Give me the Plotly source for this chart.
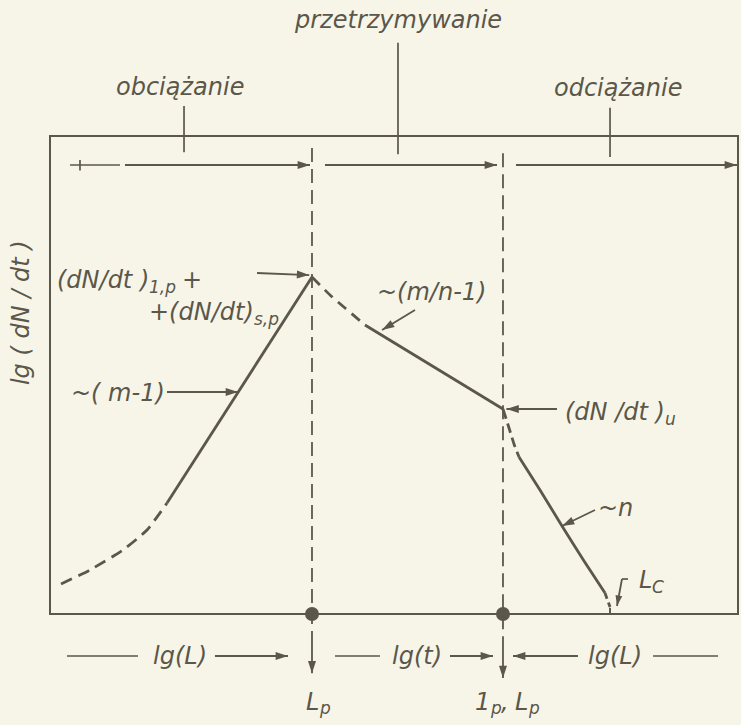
import math
import plotly.graph_objects as go

# ---- schematic curve values: x = lg of load / time axis, y = lg(dN/dt) (frame spans 0..100) ----
load_dash_x = [1.60, 5.81, 10.61, 14.10, 17.01]
load_dash_y = [6.28, 9.21, 13.39, 17.57, 23.22]
load_solid_x = [17.01, 38.08]
load_solid_y = [23.22, 70.50]

hold_dash_x = [38.08, 40.70, 42.88, 45.78]
hold_dash_y = [70.50, 66.74, 64.02, 60.46]
hold_solid_x = [45.78, 65.84]
hold_solid_y = [60.46, 42.89]

unload_dash_x = [65.84, 66.72, 67.44, 68.17]
unload_dash_y = [42.89, 38.91, 35.56, 32.85]
unload_solid_x = [68.17, 71.22, 74.42, 77.62, 80.67]
unload_solid_y = [32.85, 25.94, 18.41, 11.09, 4.39]
unload_tail_x = [80.67, 81.40]
unload_tail_y = [4.39, 1.46]

# phase boundaries on the horizontal axis
L_P = 38.08      # end of loading
T_P = 65.84      # end of hold
L_C = 81.40      # closing load

phase_labels = ["obciążanie", "przetrzymywanie", "odciążanie"]

INK = "#5b574a"
PAPER = "#f7f5e8"
FONT = "DejaVu Sans"
FS = 24
SUB_FS = 17

W, H = 741, 725
X_RANGE = [-7.267, 100.436]
Y_RANGE = [-23.22, 128.45]
SX = W / (X_RANGE[1] - X_RANGE[0])   # pixels per x unit
SY = H / (Y_RANGE[1] - Y_RANGE[0])   # pixels per y unit

# DejaVu Sans advance widths (font units, 2048 per em) for the glyphs used in mixed labels
ADV = {" ": 651, "(": 799, ")": 799, "/": 690, "+": 1716, ",": 651, "-": 739,
       "1": 1303, "d": 1300, "p": 1300, "u": 1298, "t": 803, "s": 1067,
       "N": 1532, "L": 1141, "C": 1430}


def text_px(s, size):
    return sum(ADV.get(ch, 1200) for ch in s) * size / 2048.0


fig = go.Figure()


def curve(xs, ys, dash="solid", spline=True):
    fig.add_trace(go.Scatter(
        x=xs, y=ys, mode="lines",
        line=dict(color=INK, width=2.8, dash=dash,
                  shape="spline" if spline else "linear", smoothing=0.5),
        hoverinfo="skip", showlegend=False))


curve(load_dash_x, load_dash_y, dash="12px,7px")
curve(load_solid_x, load_solid_y, spline=False)
curve(hold_dash_x, hold_dash_y, dash="11px,7px")
curve(hold_solid_x, hold_solid_y, spline=False)
curve(unload_dash_x, unload_dash_y, dash="10px,5px")
curve(unload_solid_x, unload_solid_y)
curve(unload_tail_x, unload_tail_y, dash="6px,4px", spline=False)

# dots where the phase boundaries meet the axis
fig.add_trace(go.Scatter(
    x=[L_P, T_P], y=[0, 0], mode="markers",
    marker=dict(color=INK, size=14), hoverinfo="skip", showlegend=False))


def arrow(x0, y0, x1, y1, head=13):
    """Straight pointer from (x0, y0) with a filled head at (x1, y1)."""
    fig.add_trace(go.Scatter(
        x=[x0, x1], y=[y0, y1], mode="lines",
        line=dict(color=INK, width=1.8),
        hoverinfo="skip", showlegend=False))
    ang = math.degrees(math.atan2((x1 - x0) * SX, (y1 - y0) * SY))
    fig.add_trace(go.Scatter(
        x=[x1], y=[y1], mode="markers",
        marker=dict(symbol="arrow", size=head, color=INK, angle=ang,
                    line=dict(width=0)),
        hoverinfo="skip", showlegend=False))


shapes = []


def seg(x0, y0, x1, y1, width=1.7, dash="solid"):
    shapes.append(dict(type="line", xref="x", yref="y", x0=x0, y0=y0, x1=x1, y1=y1,
                       line=dict(color=INK, width=width, dash=dash)))


# frame
shapes.append(dict(type="rect", xref="x", yref="y", x0=0, y0=0, x1=100, y1=100,
                   line=dict(color=INK, width=2), layer="below"))

# dashed phase boundaries
for xb, ytop in [(L_P, 97.5), (T_P, 96.4)]:
    seg(xb, ytop, xb, -6.5, width=1.8, dash="14px,7px")

# ticks from the phase labels down into the frame
seg(19.48, 106.3, 19.48, 96.6)
seg(50.58, 119.5, 50.58, 96.2)
seg(81.40, 105.9, 81.40, 95.6)

# start tick and gap of the loading span arrow
seg(2.91, 93.93, 10.17, 93.93)
seg(4.36, 92.8, 4.36, 95.0)

# bottom row lines
seg(2.47, -8.79, 12.79, -8.79)
seg(41.42, -8.79, 47.97, -8.79)
seg(87.65, -8.79, 97.09, -8.79)

# L_C tick and hook
seg(L_C, 0, L_C, 1.3, width=2)
seg(83.14, 7.32, 84.01, 7.32)

annotations = []


def label(x, y, text, size=FS, xanchor="center", angle=0):
    annotations.append(dict(
        x=x, y=y, xref="x", yref="y", text=text, showarrow=False,
        xanchor=xanchor, yanchor="middle", textangle=angle,
        font=dict(family=FONT, size=size, color=INK, style="italic")))


def rich(x, y, parts, xanchor="left", drop=7.0):
    """Label made of (text, is_subscript, gap_after_px) pieces laid out left to right."""
    widths = [text_px(t, SUB_FS if sub else FS) + gap for t, sub, gap in parts]
    total = sum(widths)
    start = x * SX
    if xanchor == "center":
        start -= total / 2
    elif xanchor == "right":
        start -= total
    px = start
    for (t, sub, gap), w in zip(parts, widths):
        yy = y - (drop / SY if sub else 0.0)
        label(px / SX, yy, t, size=SUB_FS if sub else FS, xanchor="left")
        px += w


# span arrows across the top of the frame
arrow(10.90, 93.93, 37.79, 93.93)
arrow(39.97, 93.93, 64.97, 93.93)
arrow(67.73, 93.93, 99.85, 93.93)

# phase names
label(18.90, 110.25, phase_labels[0])
label(50.58, 124.27, phase_labels[1])
label(82.56, 110.04, phase_labels[2])

# y axis title
label(-4.2, 62.97, "lg ( dN / dt )", angle=-90)

# peak rate
rich(0.73, 69.87, [("(dN/dt )", False, 0), ("1,p", True, 6), ("+", False, 0)])
rich(33.0, 63.18, [("+(dN/dt)", False, 0), ("s,p", True, 0)], xanchor="right")
arrow(30.09, 71.34, L_P - 0.4, 70.9)

# slopes
label(17.01, 46.23, "~( m-1)", xanchor="right")
arrow(17.01, 46.44, 27.33, 46.44)

label(47.3, 67.36, "~(m/n-1)", xanchor="left")
arrow(53.05, 63.60, 48.26, 59.41)

rich(74.56, 42.26, [("(dN /dt )", False, 0), ("u", True, 0)])
arrow(73.69, 42.89, T_P + 0.5, 42.89)

label(79.36, 22.18, "~n", xanchor="left")
arrow(79.22, 21.76, 74.42, 18.41)

rich(85.32, 7.11, [("L", False, 0), ("C", True, 0)])
arrow(83.14, 7.32, 82.41, 1.67, head=11)

# downward arrows below the dots
arrow(L_P, -6.5, L_P, -12.4)
arrow(T_P, -6.5, T_P, -13.4)

# bottom axis description
label(18.90, -8.79, "lg(L)")
arrow(23.98, -8.79, 34.59, -8.79)
label(53.34, -8.79, "lg(t)")
arrow(58.14, -8.79, 64.39, -8.79)
arrow(76.74, -8.79, 67.30, -8.79)
label(82.12, -8.79, "lg(L)")

rich(38.66, -18.4, [("L", False, 0), ("p", True, 0)], xanchor="center", drop=6.0)
rich(66.13, -18.4, [("1", False, 0), ("p", True, 0), (",", False, 6),
                    ("L", False, 0), ("p", True, 0)], xanchor="center", drop=6.0)

fig.update_layout(
    width=W, height=H,
    margin=dict(l=0, r=0, t=0, b=0),
    paper_bgcolor=PAPER, plot_bgcolor=PAPER,
    xaxis=dict(range=X_RANGE, visible=False, domain=[0, 1], fixedrange=True),
    yaxis=dict(range=Y_RANGE, visible=False, domain=[0, 1], fixedrange=True),
    shapes=shapes, annotations=annotations, showlegend=False,
)

fig.write_html("out.html")
